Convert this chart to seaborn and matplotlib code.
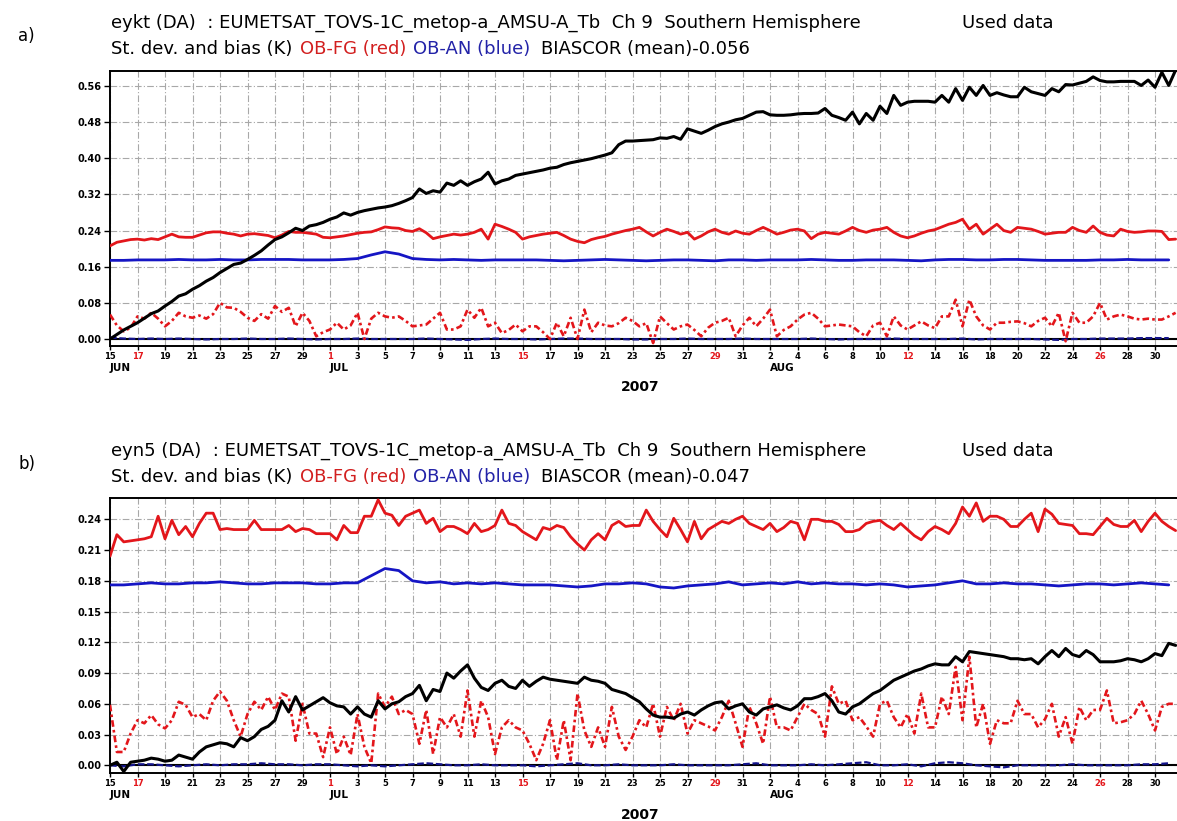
import matplotlib
matplotlib.use("Agg")
import matplotlib.pyplot as plt
import matplotlib.dates as mdates
import matplotlib.transforms as mtransforms
import numpy as np
import pandas as pd
import seaborn as sns

START = "2007-06-15"

# ---------------- panel a : eykt ----------------
# 12-hourly values (first-guess std. dev., first-guess bias, bias correction)
a_fg_sd = [
    0.206, 0.214, 0.217, 0.220, 0.221, 0.219, 0.222, 0.220, 0.226, 0.232,
    0.226, 0.225, 0.225, 0.230, 0.235, 0.237, 0.237, 0.234, 0.232, 0.228,
    0.232, 0.233, 0.231, 0.229, 0.224, 0.230, 0.238, 0.236, 0.236, 0.234,
    0.232, 0.225, 0.224, 0.226, 0.228, 0.231, 0.234, 0.236, 0.237, 0.242,
    0.248, 0.246, 0.245, 0.240, 0.238, 0.244, 0.235, 0.222, 0.226, 0.229,
    0.232, 0.230, 0.232, 0.236, 0.243, 0.221, 0.254, 0.249, 0.243, 0.236,
    0.221, 0.226, 0.229, 0.232, 0.234, 0.236, 0.229, 0.221, 0.216, 0.213,
    0.220, 0.224, 0.227, 0.232, 0.236, 0.240, 0.243, 0.247, 0.237, 0.228,
    0.236, 0.243, 0.238, 0.232, 0.236, 0.221, 0.228, 0.237, 0.243, 0.236,
    0.232, 0.239, 0.234, 0.232, 0.240, 0.247, 0.240, 0.232, 0.236, 0.241,
    0.243, 0.239, 0.222, 0.232, 0.236, 0.234, 0.232, 0.239, 0.247, 0.240,
    0.236, 0.241, 0.243, 0.247, 0.236, 0.228, 0.224, 0.228, 0.234, 0.239,
    0.242, 0.248, 0.254, 0.258, 0.265, 0.243, 0.254, 0.232, 0.243, 0.254,
    0.240, 0.236, 0.247, 0.245, 0.243, 0.238, 0.232, 0.234, 0.236, 0.236,
    0.247, 0.240, 0.236, 0.250, 0.236, 0.230, 0.228, 0.243, 0.238, 0.236,
    0.237, 0.239, 0.239, 0.238, 0.220, 0.221,
]
a_fg_bias = [
    0.054, 0.030, 0.017, 0.025, 0.050, 0.045, 0.058, 0.045, 0.028, 0.040,
    0.058, 0.050, 0.047, 0.052, 0.045, 0.055, 0.080, 0.070, 0.069, 0.060,
    0.047, 0.040, 0.055, 0.045, 0.073, 0.060, 0.069, 0.028, 0.058, 0.040,
    0.006, 0.015, 0.021, 0.036, 0.021, 0.030, 0.058, 0.000, 0.045, 0.058,
    0.050, 0.047, 0.050, 0.040, 0.028, 0.030, 0.032, 0.045, 0.058, 0.021,
    0.021, 0.028, 0.065, 0.047, 0.069, 0.028, 0.036, 0.013, 0.020, 0.032,
    0.017, 0.028, 0.028, 0.015, 0.000, 0.036, 0.006, 0.047, 0.000, 0.065,
    0.015, 0.036, 0.030, 0.028, 0.035, 0.047, 0.040, 0.028, 0.035, -0.009,
    0.050, 0.035, 0.021, 0.028, 0.032, 0.020, 0.006, 0.025, 0.036, 0.040,
    0.047, 0.006, 0.030, 0.047, 0.028, 0.045, 0.065, 0.006, 0.020, 0.028,
    0.043, 0.054, 0.058, 0.045, 0.028, 0.030, 0.032, 0.030, 0.028, 0.015,
    0.006, 0.030, 0.036, 0.006, 0.050, 0.030, 0.021, 0.030, 0.039, 0.030,
    0.024, 0.050, 0.050, 0.087, 0.028, 0.087, 0.050, 0.030, 0.021, 0.036,
    0.036, 0.038, 0.039, 0.035, 0.028, 0.040, 0.047, 0.028, 0.058, -0.005,
    0.058, 0.036, 0.036, 0.050, 0.080, 0.043, 0.050, 0.054, 0.050, 0.045,
    0.043, 0.045, 0.043, 0.043, 0.050, 0.058,
]
a_biascor = [
    0.000, 0.010, 0.020, 0.028, 0.036, 0.046, 0.056, 0.062, 0.073, 0.083,
    0.095, 0.100, 0.110, 0.118, 0.128, 0.136, 0.147, 0.156, 0.165, 0.168,
    0.176, 0.185, 0.195, 0.208, 0.220, 0.226, 0.235, 0.245, 0.240, 0.250,
    0.253, 0.258, 0.265, 0.270, 0.279, 0.274, 0.280, 0.284, 0.287, 0.290,
    0.292, 0.295, 0.300, 0.306, 0.313, 0.332, 0.322, 0.328, 0.325, 0.345,
    0.340, 0.350, 0.340, 0.348, 0.354, 0.369, 0.343, 0.350, 0.354, 0.362,
    0.365, 0.368, 0.371, 0.374, 0.378, 0.380, 0.386, 0.390, 0.393, 0.396,
    0.399, 0.403, 0.407, 0.412, 0.430, 0.438, 0.438, 0.439, 0.440, 0.441,
    0.445, 0.444, 0.448, 0.442, 0.465, 0.460, 0.455, 0.462, 0.470, 0.476,
    0.480, 0.485, 0.488, 0.495, 0.502, 0.503, 0.496, 0.495, 0.495, 0.496,
    0.498, 0.499, 0.499, 0.500, 0.510, 0.495, 0.490, 0.484, 0.502, 0.476,
    0.499, 0.484, 0.515, 0.499, 0.539, 0.517, 0.524, 0.526, 0.526, 0.526,
    0.524, 0.539, 0.524, 0.554, 0.528, 0.557, 0.539, 0.561, 0.539, 0.545,
    0.540, 0.536, 0.536, 0.557, 0.547, 0.543, 0.539, 0.554, 0.547, 0.563,
    0.562, 0.566, 0.570, 0.580, 0.572, 0.569, 0.569, 0.570, 0.570, 0.570,
    0.561, 0.573, 0.557, 0.590, 0.561, 0.595,
]
# daily values (analysis std. dev., analysis bias)
a_an_sd = [
    0.174, 0.174, 0.175, 0.175, 0.175, 0.176, 0.175, 0.175, 0.176, 0.175,
    0.175, 0.176, 0.176, 0.176, 0.175, 0.175, 0.175, 0.176, 0.178, 0.186,
    0.193, 0.188, 0.178, 0.176, 0.175, 0.176, 0.175, 0.174, 0.175, 0.175,
    0.175, 0.175, 0.174, 0.173, 0.174, 0.175, 0.176, 0.175, 0.174, 0.173,
    0.174, 0.175, 0.175, 0.174, 0.173, 0.175, 0.175, 0.174, 0.175, 0.175,
    0.175, 0.176, 0.175, 0.174, 0.174, 0.175, 0.175, 0.175, 0.174, 0.173,
    0.175, 0.176, 0.176, 0.175, 0.175, 0.176, 0.176, 0.175, 0.174, 0.174,
    0.174, 0.174, 0.175, 0.175, 0.176, 0.175, 0.175, 0.175,
]
a_an_bias = [
    0.003, 0.001, 0.000, 0.001, 0.000, 0.001, 0.000, -0.001, 0.000, 0.000,
    0.001, 0.000, 0.000, 0.001, 0.000, -0.001, 0.000, 0.000, 0.001, 0.000,
    0.000, 0.000, 0.000, 0.001, 0.000, -0.001, -0.002, 0.000, 0.001, 0.000,
    0.000, -0.001, 0.000, 0.001, 0.001, 0.000, 0.000, 0.000, -0.001, -0.001,
    0.000, 0.000, 0.001, 0.000, 0.000, 0.000, 0.001, 0.000, 0.000, 0.000,
    0.000, 0.001, 0.000, -0.001, 0.000, 0.000, 0.000, 0.001, 0.000, 0.000,
    0.000, 0.000, 0.001, -0.001, 0.000, 0.000, 0.000, 0.000, -0.001, -0.002,
    0.000, 0.000, 0.001, 0.001, 0.001, 0.002, 0.002, 0.002,
]
a_yticks = [0.00, 0.08, 0.16, 0.24, 0.32, 0.40, 0.48, 0.56]

# ---------------- panel b : eyn5 ----------------
b_fg_sd = [
    0.204, 0.225, 0.218, 0.219, 0.220, 0.221, 0.223, 0.243, 0.221, 0.239,
    0.225, 0.233, 0.223, 0.236, 0.246, 0.246, 0.230, 0.231, 0.230, 0.230,
    0.230, 0.239, 0.230, 0.230, 0.230, 0.230, 0.234, 0.228, 0.231, 0.230,
    0.226, 0.226, 0.226, 0.220, 0.234, 0.227, 0.227, 0.243, 0.243, 0.259,
    0.246, 0.244, 0.234, 0.243, 0.246, 0.249, 0.236, 0.241, 0.228, 0.233,
    0.233, 0.230, 0.226, 0.236, 0.228, 0.230, 0.234, 0.249, 0.236, 0.234,
    0.228, 0.224, 0.220, 0.232, 0.230, 0.234, 0.232, 0.223, 0.216, 0.210,
    0.220, 0.226, 0.220, 0.234, 0.238, 0.233, 0.234, 0.234, 0.249, 0.238,
    0.230, 0.223, 0.241, 0.230, 0.218, 0.238, 0.221, 0.230, 0.234, 0.238,
    0.236, 0.240, 0.243, 0.236, 0.233, 0.230, 0.236, 0.228, 0.232, 0.238,
    0.236, 0.220, 0.240, 0.240, 0.238, 0.238, 0.235, 0.228, 0.228, 0.230,
    0.236, 0.238, 0.239, 0.234, 0.230, 0.236, 0.230, 0.224, 0.220, 0.228,
    0.233, 0.230, 0.226, 0.236, 0.252, 0.243, 0.256, 0.238, 0.243, 0.243,
    0.240, 0.233, 0.233, 0.240, 0.246, 0.228, 0.250, 0.245, 0.236, 0.235,
    0.234, 0.226, 0.226, 0.225, 0.233, 0.241, 0.235, 0.233, 0.233, 0.239,
    0.228, 0.238, 0.246, 0.238, 0.233, 0.229,
]
b_fg_bias = [
    0.059, 0.013, 0.013, 0.031, 0.044, 0.041, 0.049, 0.040, 0.036, 0.044,
    0.062, 0.059, 0.047, 0.050, 0.044, 0.063, 0.072, 0.063, 0.044, 0.028,
    0.050, 0.062, 0.054, 0.067, 0.054, 0.070, 0.067, 0.024, 0.060, 0.031,
    0.031, 0.008, 0.037, 0.011, 0.028, 0.010, 0.050, 0.018, 0.002, 0.070,
    0.057, 0.067, 0.050, 0.054, 0.050, 0.021, 0.054, 0.011, 0.047, 0.037,
    0.050, 0.028, 0.073, 0.028, 0.063, 0.047, 0.011, 0.037, 0.044, 0.037,
    0.034, 0.021, 0.005, 0.021, 0.044, 0.005, 0.044, 0.005, 0.070, 0.034,
    0.018, 0.037, 0.018, 0.057, 0.028, 0.015, 0.028, 0.044, 0.037, 0.060,
    0.028, 0.057, 0.044, 0.060, 0.031, 0.044, 0.041, 0.038, 0.034, 0.047,
    0.063, 0.041, 0.018, 0.057, 0.041, 0.021, 0.067, 0.037, 0.037, 0.034,
    0.047, 0.060, 0.054, 0.050, 0.028, 0.077, 0.060, 0.063, 0.044, 0.047,
    0.038, 0.028, 0.060, 0.063, 0.047, 0.037, 0.050, 0.031, 0.070, 0.037,
    0.037, 0.067, 0.050, 0.096, 0.044, 0.106, 0.037, 0.060, 0.021, 0.044,
    0.041, 0.041, 0.063, 0.050, 0.050, 0.037, 0.045, 0.060, 0.028, 0.047,
    0.021, 0.057, 0.044, 0.054, 0.054, 0.073, 0.041, 0.042, 0.044, 0.050,
    0.063, 0.050, 0.034, 0.057, 0.060, 0.060,
]
b_biascor = [
    0.000, 0.003, -0.006, 0.003, 0.004, 0.005, 0.007, 0.006, 0.004, 0.005,
    0.010, 0.008, 0.006, 0.013, 0.018, 0.020, 0.022, 0.021, 0.018, 0.027,
    0.024, 0.028, 0.035, 0.038, 0.044, 0.063, 0.052, 0.067, 0.054, 0.058,
    0.062, 0.066, 0.061, 0.058, 0.057, 0.050, 0.057, 0.050, 0.047, 0.063,
    0.055, 0.060, 0.062, 0.067, 0.070, 0.078, 0.063, 0.074, 0.072, 0.090,
    0.085, 0.092, 0.098, 0.085, 0.076, 0.073, 0.080, 0.083, 0.077, 0.075,
    0.083, 0.077, 0.082, 0.086, 0.084, 0.083, 0.082, 0.081, 0.080, 0.086,
    0.083, 0.082, 0.080, 0.074, 0.072, 0.070, 0.066, 0.062, 0.055, 0.049,
    0.047, 0.047, 0.046, 0.050, 0.052, 0.049, 0.054, 0.058, 0.061, 0.062,
    0.055, 0.058, 0.060, 0.052, 0.049, 0.055, 0.057, 0.059, 0.056, 0.054,
    0.058, 0.065, 0.065, 0.067, 0.070, 0.063, 0.052, 0.050, 0.057, 0.060,
    0.065, 0.070, 0.073, 0.078, 0.083, 0.086, 0.089, 0.092, 0.094, 0.097,
    0.099, 0.098, 0.098, 0.106, 0.101, 0.111, 0.110, 0.109, 0.108, 0.107,
    0.106, 0.104, 0.104, 0.103, 0.104, 0.099, 0.106, 0.112, 0.106, 0.114,
    0.108, 0.106, 0.112, 0.108, 0.101, 0.101, 0.101, 0.102, 0.104, 0.103,
    0.101, 0.104, 0.109, 0.107, 0.119, 0.117,
]
b_an_sd = [
    0.176, 0.176, 0.177, 0.178, 0.177, 0.177, 0.178, 0.178, 0.179, 0.178,
    0.177, 0.177, 0.178, 0.178, 0.178, 0.177, 0.177, 0.178, 0.178, 0.185,
    0.192, 0.190, 0.180, 0.178, 0.179, 0.177, 0.178, 0.177, 0.178, 0.177,
    0.176, 0.176, 0.176, 0.175, 0.174, 0.175, 0.177, 0.177, 0.178, 0.177,
    0.174, 0.173, 0.175, 0.176, 0.177, 0.179, 0.176, 0.177, 0.178, 0.177,
    0.179, 0.177, 0.178, 0.177, 0.177, 0.176, 0.177, 0.176, 0.174, 0.175,
    0.176, 0.178, 0.180, 0.177, 0.177, 0.178, 0.177, 0.177, 0.176, 0.175,
    0.176, 0.177, 0.177, 0.176, 0.177, 0.178, 0.177, 0.176,
]
b_an_bias = [
    0.000, -0.001, 0.001, 0.001, 0.000, -0.001, 0.000, 0.001, 0.000, 0.001,
    0.001, 0.002, 0.001, 0.001, 0.000, 0.001, 0.001, 0.000, -0.001, 0.000,
    -0.001, 0.000, 0.001, 0.002, 0.001, 0.000, 0.000, 0.001, 0.000, 0.000,
    0.000, -0.001, 0.000, 0.001, 0.002, 0.000, 0.000, 0.001, 0.000, 0.000,
    0.000, 0.001, 0.000, 0.000, 0.000, 0.000, 0.001, 0.002, 0.000, 0.000,
    0.000, 0.001, 0.000, 0.001, 0.002, 0.003, 0.000, 0.000, 0.001, -0.001,
    0.002, 0.003, 0.002, 0.000, -0.001, -0.002, 0.000, 0.000, 0.000, 0.000,
    0.001, 0.000, 0.000, 0.000, 0.000, 0.001, 0.001, 0.002,
]
b_yticks = [0.00, 0.03, 0.06, 0.09, 0.12, 0.15, 0.18, 0.21, 0.24]

title_head = ["eykt (DA)  : EUMETSAT_TOVS-1C_metop-a_AMSU-A_Tb  Ch 9  Southern Hemisphere",
              "eyn5 (DA)  : EUMETSAT_TOVS-1C_metop-a_AMSU-A_Tb  Ch 9  Southern Hemisphere"]
biascor_mean = ["BIASCOR (mean)-0.056", "BIASCOR (mean)-0.047"]
panel_tags = ["a)", "b)"]
month_names = ["JUN", "JUL", "AUG"]
year_label = "2007"

RED = "#e3161b"
BLUE = "#1515c4"
NAVY = "#14148c"
RED_TXT = "#d21f1f"
BLUE_TXT = "#2323a8"

sns.set_style("white")
plt.rcParams["font.family"] = ["DejaVu Sans"]
plt.rcParams["text.color"] = "black"

W, H = 1177, 821
fig = plt.figure(figsize=(W / 100, H / 100), dpi=100)


def px_axes(left, top, right, bottom):
    return fig.add_axes([left / W, 1 - bottom / H, (right - left) / W, (bottom - top) / H])


def ftext(x, y, s, **kw):
    kw.setdefault("color", "black")
    return fig.text(x / W, 1 - y / H, s, va="center", ha="left", **kw)


def draw_panel(ax, fg_sd, fg_bias, biascor, an_sd, an_bias, yticks, ylim):
    half = pd.date_range(START, periods=len(fg_sd), freq="12h")
    day = pd.date_range(START, periods=len(an_sd), freq="D")

    ax.axhline(0, color="black", lw=1.5, zorder=2)
    sns.lineplot(x=day, y=an_bias, ax=ax, color=NAVY, lw=1.6,
                 linestyle=(0, (3, 1.2)), zorder=3)
    sns.lineplot(x=half, y=fg_bias, ax=ax, color=RED, lw=1.9,
                 linestyle=(0, (2.5, 1.2, 1, 1.2)), zorder=3)
    sns.lineplot(x=day, y=an_sd, ax=ax, color=BLUE, lw=2.0, zorder=4)
    sns.lineplot(x=half, y=fg_sd, ax=ax, color=RED, lw=2.0, zorder=4)
    sns.lineplot(x=half, y=biascor, ax=ax, color="black", lw=2.2, zorder=5)

    t0 = pd.Timestamp(START)
    ax.set_xlim(t0, t0 + pd.Timedelta(days=77.6))
    ax.set_ylim(*ylim)
    ax.set_xlabel("")
    ax.set_ylabel("")

    ax.tick_params(axis="x", direction="out", length=3, width=1.0, pad=1.5,
                   bottom=True, color="black", labelcolor="black")
    ax.tick_params(axis="y", direction="out", length=4, width=1.0, pad=2,
                   left=True, color="black", labelcolor="black")

    ticks = pd.date_range(START, "2007-08-31", freq="2D")
    ax.set_xticks(ticks)
    ax.set_xticklabels([str(t.day) for t in ticks])
    # every second Sunday that falls on a labelled day is shown in red
    for lab, t in zip(ax.get_xticklabels(), ticks):
        lab.set_color(RED if t.weekday() == 6 else "black")
        lab.set_fontweight("bold")
        lab.set_fontsize(6)
    ax.set_yticks(yticks)
    ax.set_yticklabels([f"{v:.2f}" for v in yticks])
    for lab in ax.get_yticklabels():
        lab.set_fontweight("bold")
        lab.set_fontsize(7)

    ax.grid(True, color="#a8a8a8", lw=0.8, linestyle=(0, (6, 2, 1, 2)))
    ax.set_axisbelow(True)
    for side in ("left", "top", "bottom"):
        ax.spines[side].set_visible(True)
        ax.spines[side].set_color("black")
        ax.spines[side].set_linewidth(1.4)
    ax.spines["right"].set_visible(False)

    trans = mtransforms.blended_transform_factory(ax.transData, ax.transAxes)
    for name, d in zip(month_names, ["2007-06-15", "2007-07-01", "2007-08-02"]):
        ax.text(mdates.date2num(pd.Timestamp(d)), -0.08, name, transform=trans,
                ha="left", va="center", fontsize=7.5, fontweight="bold",
                color="black")


ax_a = px_axes(110, 71, 1177, 346)
ax_b = px_axes(110, 498, 1177, 773)

draw_panel(ax_a, a_fg_sd, a_fg_bias, a_biascor, a_an_sd, a_an_bias,
           a_yticks, (-0.0155, 0.593))
draw_panel(ax_b, b_fg_sd, b_fg_bias, b_biascor, b_an_sd, b_an_bias,
           b_yticks, (-0.0075, 0.2608))

# headers above each panel
HEAD_FS = 13
for k, (top_y, tag_y, used_x) in enumerate([(23, 36, 962), (451, 464, 962)]):
    ftext(18, tag_y, panel_tags[k], fontsize=12)
    ftext(111, top_y, title_head[k], fontsize=HEAD_FS)
    ftext(used_x, top_y, "Used data", fontsize=HEAD_FS)
    y2 = top_y + 26
    ftext(111, y2, "St. dev. and bias (K)", fontsize=HEAD_FS)
    ftext(300, y2, "OB-FG (red)", fontsize=HEAD_FS, color=RED_TXT)
    ftext(413, y2, "OB-AN (blue)", fontsize=HEAD_FS, color=BLUE_TXT)
    ftext(541, y2, biascor_mean[k], fontsize=HEAD_FS)

fig.text(640 / W, 1 - 387 / H, year_label, ha="center", va="center",
         fontsize=10, fontweight="bold", color="black")
fig.text(640 / W, 1 - 815 / H, year_label, ha="center", va="center",
         fontsize=10, fontweight="bold", color="black")

fig.savefig("out.png", dpi=100)
